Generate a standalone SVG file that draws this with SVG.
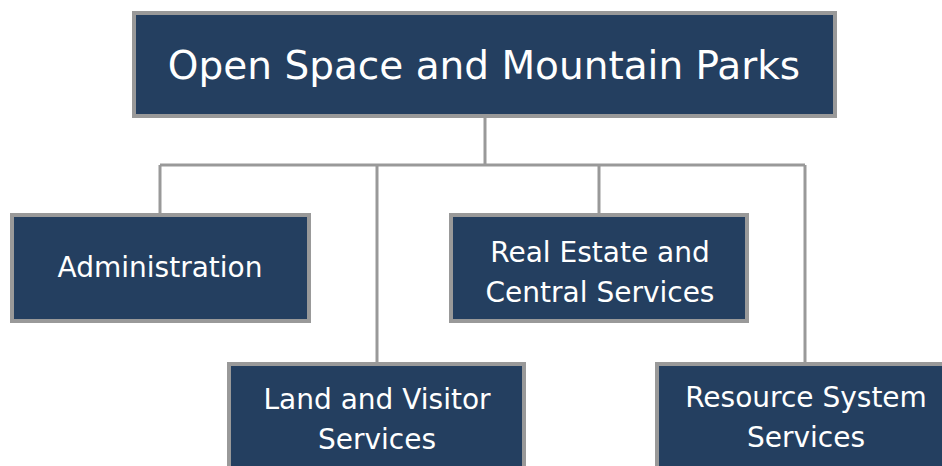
<svg xmlns="http://www.w3.org/2000/svg" width="942" height="466" viewBox="0 0 942 466">
<style>
.box{fill:#243f60;stroke:#999999;stroke-width:4}
.t{font-family:"DejaVu Sans","Liberation Sans",sans-serif;fill:#ffffff;text-anchor:middle;font-size:28px}
.c{fill:none;stroke:#999999;stroke-width:3}
</style>
<rect width="942" height="466" fill="#ffffff"/>
<g id="connectors">
<path class="c" d="M485 117V165M160 165H805M160 165V213M377 165V362M599 165V213M805 165V362"/>
</g>
<g id="osmp">
<rect class="box" x="134" y="13" width="701" height="103"/>
<text class="t" x="484" y="79" style="font-size:39px">Open Space and Mountain Parks</text>
</g>
<g id="admin">
<rect class="box" x="12" y="215" width="297" height="106"/>
<text class="t" x="160" y="277">Administration</text>
</g>
<g id="realestate">
<rect class="box" x="451" y="215" width="296" height="106"/>
<text class="t" x="600" y="262">Real Estate and</text>
<text class="t" x="600" y="302">Central Services</text>
</g>
<g id="landvisitor">
<rect class="box" x="229" y="364" width="295" height="106"/>
<text class="t" x="377" y="409">Land and Visitor</text>
<text class="t" x="377" y="449">Services</text>
</g>
<g id="resource">
<rect class="box" x="657" y="364" width="296" height="106"/>
<text class="t" x="806" y="407">Resource System</text>
<text class="t" x="806" y="447">Services</text>
</g>
</svg>
